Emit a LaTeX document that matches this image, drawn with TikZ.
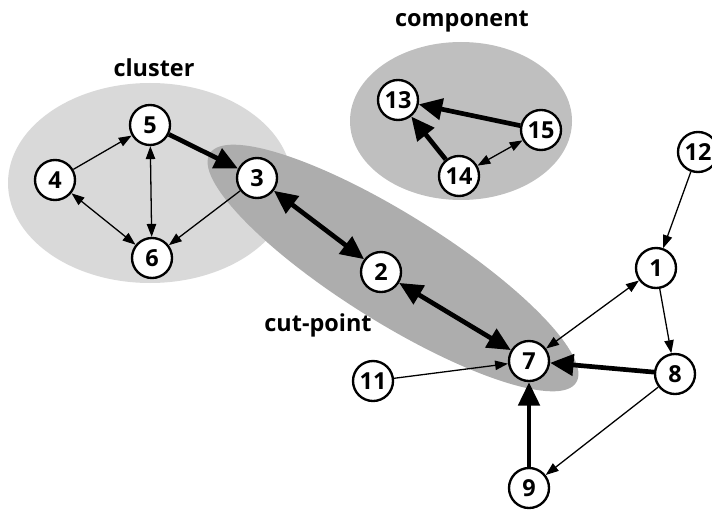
\documentclass[tikz,border=0pt]{standalone}
\usepackage{fontspec}
\setmainfont{Open Sans}
\usetikzlibrary{arrows.meta,backgrounds}

\begin{document}
\begin{tikzpicture}[
	x=0.03cm, y=-0.03cm,
	font=\fontsize{20}{22}\selectfont\bfseries,
	vertex/.style={circle, draw=black, fill=white, line width=2pt, minimum size=1.2cm, inner sep=0pt},
	weak/.style={line width=1.1pt, -{Triangle[length=11pt,width=8pt]}},
	weakboth/.style={line width=1.1pt, {Triangle[length=11pt,width=8pt]}-{Triangle[length=11pt,width=8pt]}},
	strong/.style={line width=4pt, -{Triangle[length=20pt,width=18pt]}},
	strongboth/.style={line width=4pt, {Triangle[length=20pt,width=18pt]}-{Triangle[length=20pt,width=18pt]}},
	region/.style={fill=black!#1},
	region/.default=15,
	caption/.style={inner sep=0pt}
	]
    \useasboundingbox (0,0) rectangle (712,512);

    % cluster
    \node[vertex] at (55,180) (n4) {4};
    \node[vertex] at (150,125) (n5) {5};
    \node[vertex] at (257,178) (n3) {3};
    \node[vertex] at (152,258) (n6) {6};
    \node[caption] at (154,68) (lcluster) {cluster};

    % cut-point
    \node[vertex] at (381,272) (n2) {2};
    \node[vertex] at (529,361) (n7) {7};
    \node[caption] at (318,325) (lcut) {cut-point};

    % component
    \node[vertex] at (398,100) (n13) {13};
    \node[vertex] at (541,130) (n15) {15};
    \node[vertex] at (459,176) (n14) {14};
    \node[caption] at (462,22) (lcomp) {component};

    % the rest
    \node[vertex] at (373,381) (n11) {11};
    \node[vertex] at (656,268) (n1) {1};
    \node[vertex] at (698,152) (n12) {12};
    \node[vertex] at (675,374) (n8) {8};
    \node[vertex] at (529,488) (n9) {9};

    % links
    \path (n4) edge[weak] (n5)
          (n4) edge[weakboth] (n6)
          (n5) edge[weakboth] (n6)
          (n3) edge[weak] (n6)
          (n5) edge[strong] (n3)
          (n3) edge[strongboth] (n2)
          (n2) edge[strongboth] (n7)
          (n11) edge[weak] (n7)
          (n1) edge[weakboth] (n7)
          (n12) edge[weak] (n1)
          (n1) edge[weak] (n8)
          (n8) edge[strong] (n7)
          (n8) edge[weak] (n9)
          (n9) edge[strong] (n7)
          (n15) edge[strong] (n13)
          (n14) edge[strong] (n13)
          (n14) edge[weakboth] (n15);

    % regions
    \begin{scope}[on background layer]
    \fill[region=15] (150,183) ellipse (142 and 100);
    \fill[region=32, rotate around={-32:(393,268)}] (393,268) ellipse (216 and 54);
    \fill[region=25] (461,121) ellipse (111 and 79);
    \end{scope}

\end{tikzpicture}
\end{document}
